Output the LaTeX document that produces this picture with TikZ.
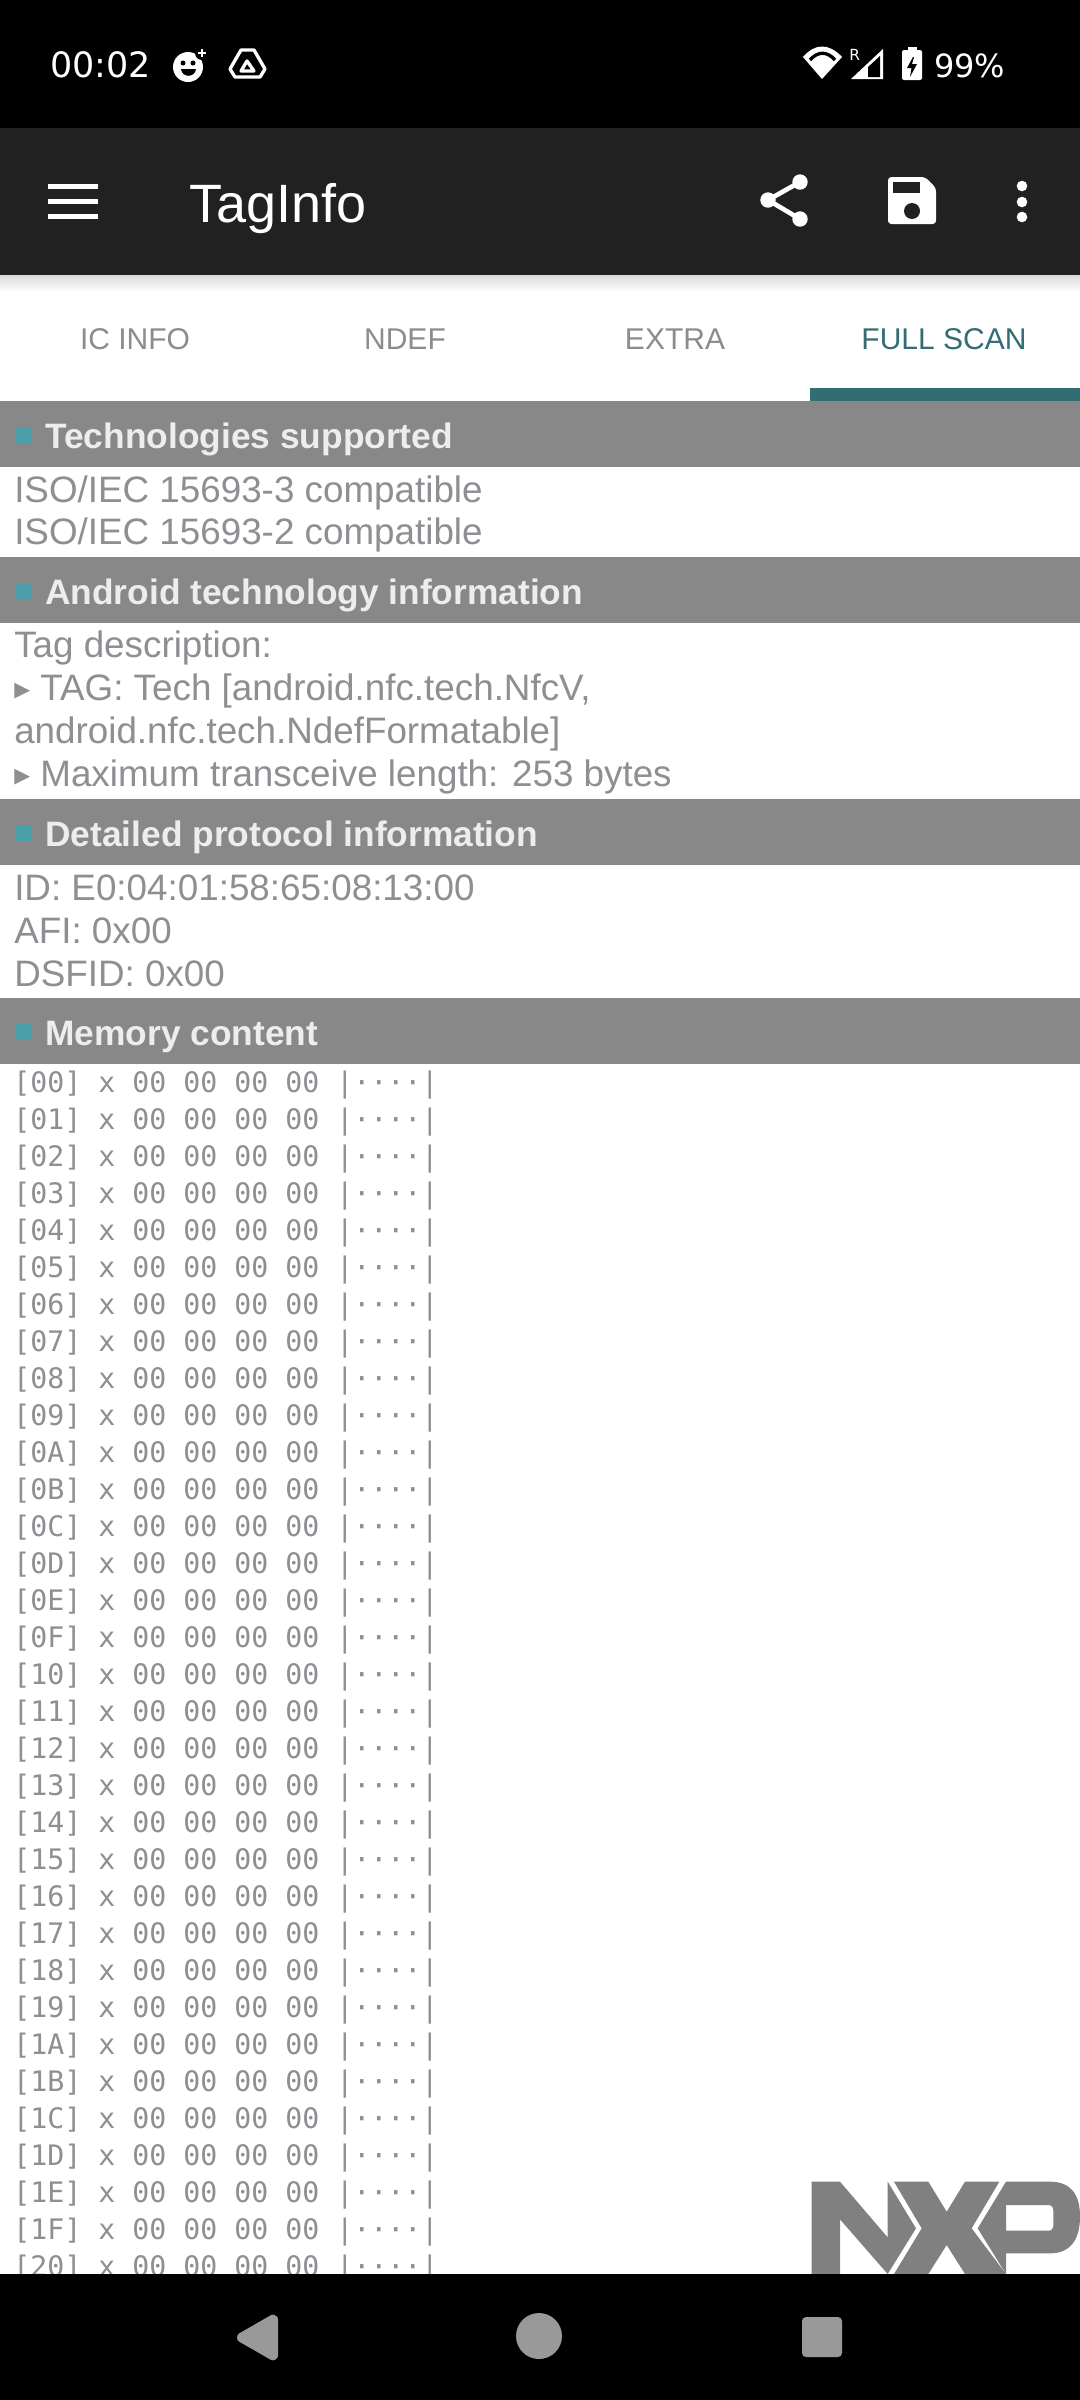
\documentclass[tikz,border=0pt]{standalone}
\usepackage{fontspec}
\setmainfont{Liberation Sans}
\newfontfamily\rowfont{DejaVu Sans Mono}
\newfontfamily\statfont{DejaVu Sans}
\usepackage{xcolor}
\definecolor{barblack}{HTML}{000000}
\definecolor{appbar}{HTML}{212121}
\definecolor{bandgrey}{HTML}{888888}
\definecolor{textgrey}{HTML}{8E8E93}
\definecolor{tabgrey}{HTML}{8C8C8C}
\definecolor{tealdark}{HTML}{326D74}
\definecolor{tealbullet}{HTML}{4A9FA8}
\definecolor{navgrey}{HTML}{999999}
\definecolor{logogrey}{HTML}{808080}
\newcommand{\tagarrow}{\raisebox{2.6pt}{\statfont\fontsize{15.5}{15.5}\selectfont\symbol{"25B6}}}
\tikzset{
	bodyline/.style={anchor=base west, inner sep=0, text=textgrey, font=\fontsize{27.6}{33}\selectfont},
	headline/.style={anchor=base west, inner sep=0, text=black!7, font=\bfseries\fontsize{26.5}{32}\selectfont},
	tablabel/.style={anchor=base, inner sep=0, text=tabgrey, font=\fontsize{22.5}{27}\selectfont},
	memrow/.style={anchor=base west, inner sep=0, text=textgrey, font=\rowfont\fontsize{21.18}{26}\selectfont},
	statlabel/.style={anchor=base west, inner sep=0, text=white, font=\statfont\fontsize{26.2}{30}\selectfont},
	band/.style={fill=bandgrey},
	bullet/.style={fill=tealbullet},
	navicon/.style={fill=navgrey, draw=navgrey, line join=round},
}
\begin{document}
\begin{tikzpicture}[x=0.75pt, y=-0.75pt]
	\useasboundingbox (0,0) rectangle (1080,2400);
	\fill[white] (0,0) rectangle (1080,2400);

	% Status bar
	\fill[barblack] (0,0) rectangle (1080,128);
	\node[statlabel] (clock) at (50,77) {00:02};
	\fill[white] (188,67) circle (15);
	\fill[barblack] (202,53) circle (7);
	\fill[barblack] (183,63) circle (2.5);
	\fill[barblack] (193,63) circle (2.5);
	\fill[barblack] (181,69) .. controls (182,78) and (195,78) .. (196,69) -- cycle;
	\draw[white, line width=2.2] (198,53) -- (206,53);
	\draw[white, line width=2.2] (202,49) -- (202,57);
	\draw[white, line width=2.5, line join=round] (241,50) -- (254,50) -- (265,69) -- (260,77) -- (235,77) -- (230,69) -- cycle;
	\draw[white, line width=2.5, line join=round] (247,61) -- (254,71) -- (241,71) -- cycle;
	\fill[white] (803,57) .. controls (815,43) and (829,43) .. (842,57) -- (822,79) -- cycle;
	\draw[barblack, line width=2.5] (810,60) .. controls (818,51) and (827,51) .. (835,60);
	\node[statlabel, font=\statfont\fontsize{11.5}{14}\selectfont] (roam) at (849,60) {R};
	\fill[white] (851,79) -- (883,49) -- (883,79) -- cycle;
	\fill[barblack] (868,67) -- (880,56) -- (880,77) -- (868,77) -- cycle;
	\fill[white] (908,47) rectangle (917,52);
	\fill[white, rounded corners=1.5] (902,50) rectangle (922,80);
	\fill[barblack] (913,57) -- (907,68) -- (911.5,68) -- (910,77) -- (917,64) -- (912,64) -- (914,57) -- cycle;
	\node[statlabel, font=\statfont\fontsize{24}{30}\selectfont] (battery) at (934,77) {99\%};

	% App bar
	\fill[top color=black!14, bottom color=white] (0,275) rectangle (1080,292);
	\fill[appbar] (0,128) rectangle (1080,275);
	\fill[white] (48,184) rectangle (98,188.5);
	\fill[white] (48,199) rectangle (98,203.5);
	\fill[white] (48,214) rectangle (98,218.5);
	\node[anchor=base west, inner sep=0, text=white, font=\fontsize{40.5}{48}\selectfont] (title) at (189,222) {TagInfo};
	\draw[white, line width=3.5] (800,182) -- (768,200) -- (800,219);
	\fill[white] (800,182) circle (7.7);
	\fill[white] (768,200) circle (7.7);
	\fill[white] (800,219) circle (7.7);
	\fill[white, rounded corners=2.5] (888,177) -- (925,177) -- (936,188) -- (936,224) -- (888,224) -- cycle;
	\fill[appbar] (893,182) rectangle (920,193);
	\fill[appbar] (912,211) circle (8);
	\fill[white] (1022,186) circle (5.3);
	\fill[white] (1022,202) circle (5.3);
	\fill[white] (1022,217) circle (5.3);

	% Tabs
	\node[tablabel] (tabinfo) at (135,349) {IC INFO};
	\node[tablabel] (tabndef) at (405,349) {NDEF};
	\node[tablabel] (tabextra) at (675,349) {EXTRA};
	\node[tablabel, text=tealdark] (tabscan) at (944,349) {FULL SCAN};
	\fill[tealdark] (810,388) rectangle (1080,401);

	% Section headers
	\foreach \top/\name/\lbl in {401/tech/Technologies supported, 557/android/Android technology information, 799/proto/Detailed protocol information, 998/mem/Memory content} {
		\fill[band] (0,\top) rectangle (1080,\top+66);
		\fill[bullet] (16,\top+26) rectangle (32,\top+42);
		\node[headline] (\name) at (45,\top+47) {\lbl};
	}

	% Body text
	\node[bodyline] (iso3) at (14,502) {ISO/IEC 15693-3 compatible};
	\node[bodyline] (iso2) at (14,544) {ISO/IEC 15693-2 compatible};
	\node[bodyline] (tagdesc) at (14,657) {Tag description:};
	\node[bodyline] (tagtech) at (14,700) {\tagarrow{} TAG: Tech [android.nfc.tech.NfcV,};
	\node[bodyline] (tagform) at (14,743) {android.nfc.tech.NdefFormatable]};
	\node[bodyline] (taglen) at (14,786) {\tagarrow{} Maximum transceive length: 253 bytes};
	\node[bodyline] (tagid) at (14,900) {ID: E0:04:01:58:65:08:13:00};
	\node[bodyline] (tagafi) at (14,943) {AFI: 0x00};
	\node[bodyline] (tagdsfid) at (14,986) {DSFID: 0x00};

	% Memory rows
	\foreach \lbl [count=\i from 0] in {00,01,02,03,04,05,06,07,08,09,0A,0B,0C,0D,0E,0F,10,11,12,13,14,15,16,17,18,19,1A,1B,1C,1D,1E,1F,20} {
		\node[memrow] (row\i) at (13,1092+37*\i) {[\lbl] x 00 00 00 00 |····|};
	}

	% NXP logo
	\begin{scope}[shift={(700,2120)}, x=0.25pt, y=-0.25pt]
		\fill[logogrey] (335,185) -- (420,185) -- (563,352) -- (563,185) -- (648,325) -- (563,462) -- (420,298) -- (420,462) -- (335,462) -- cycle;
		\fill[logogrey] (582,185) -- (685,185) -- (740,275) -- (795,185) -- (898,185) -- (815,325) -- (918,462) -- (795,462) -- (740,375) -- (685,462) -- (582,462) -- (665,325) -- cycle;
		\fill[logogrey, even odd rule] (918,185) -- (1050,185) .. controls (1110,185) and (1140,220) .. (1140,290) .. controls (1140,360) and (1110,400) .. (1050,400) -- (918,400) -- (918,462) -- (833,325) -- cycle
			(918,255) -- (1045,255) .. controls (1055,255) and (1060,262) .. (1060,272) -- (1060,315) .. controls (1060,326) and (1055,332) .. (1045,332) -- (918,332) -- cycle;
	\end{scope}

	% Navigation bar
	\fill[barblack] (0,2274) rectangle (1080,2400);
	\path[navicon, line width=6, rounded corners=1] (240,2337.5) -- (274,2318) -- (274,2357) -- cycle;
	\fill[navgrey] (539,2336) circle (23);
	\fill[navgrey, rounded corners=3] (802,2317) rectangle (842,2357);
\end{tikzpicture}
\end{document}
